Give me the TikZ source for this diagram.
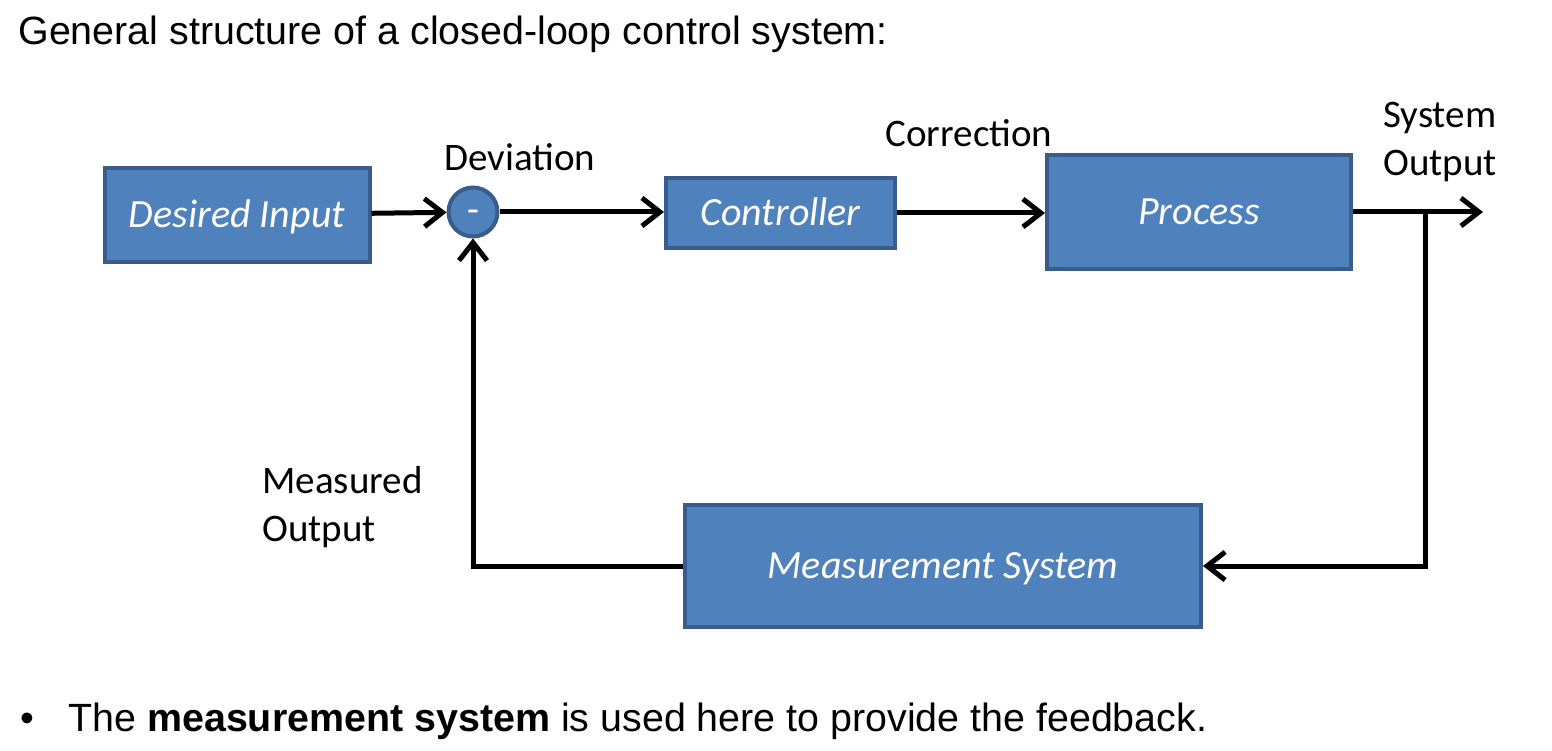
\documentclass[tikz,border=0pt]{standalone}
\usepackage{fontspec}
\setmainfont{Liberation Sans}
\newfontfamily\calibri{Carlito}
\usepackage{xcolor}
\usetikzlibrary{arrows.meta,positioning}
\definecolor{boxfill}{HTML}{4F81BD}
\definecolor{boxline}{HTML}{385D8A}

\begin{document}
\begin{tikzpicture}[
    x=0.5pt, y=0.5pt,
    box/.style={rectangle, draw=boxline, fill=boxfill, line width=2pt, text=white, inner sep=0pt, text height=13pt, text depth=0pt, font=\calibri\itshape\fontsize{20}{24}\selectfont},
    sum/.style={circle, draw=boxline, fill=boxfill, line width=2pt, text=white, inner sep=0pt, minimum size=24.5pt, text height=10.4pt, text depth=0pt, font=\calibri\fontsize{19.5}{24}\selectfont},
    lbl/.style={font=\calibri\fontsize{19.5}{24}\selectfont, align=left, inner sep=0pt},
    arrow/.style={-{Straight Barb[length=9pt,width=14pt]}, line width=2.5pt}
]
    \useasboundingbox (0,0) rectangle (1552,750);

    \node[anchor=base west, inner sep=0pt, font=\fontsize{19.7}{24}\selectfont] (title) at (18,705) {General structure of a closed-loop control system:};

    \node[box, minimum width=132.5pt, minimum height=47pt] (input) at (237,535) {Desired Input};
    \node[sum] (sum) at (473,538) {-};
    \node[box, minimum width=114.5pt, minimum height=35pt] (ctrl) at (780.5,537) {Controller};
    \node[box, minimum width=152pt, minimum height=57pt] (proc) at (1199,538) {Process};
    \node[box, minimum width=258pt, minimum height=61pt] (meas) at (943,184) {Measurement System};

    \coordinate (out) at (1483,538);
    \coordinate (branch) at (1425,538);

    \node[lbl] (dev) at (520,593) {Deviation};
    \node[lbl] (corr) at (969,617) {Correction};
    \node[lbl, anchor=west] (sysout) at (1383,608) {System\\Output};
    \node[lbl, anchor=west] (measout) at (262,242.5) {Measured\\Output};

    \draw[arrow] (input) -- (sum);
    \draw[arrow] (sum) -- (sum -| ctrl.west);
    \draw[arrow] (ctrl.east) -- (ctrl.east -| proc.west);
    \draw[arrow] (proc.east |- out) -- (out);
    \draw[arrow] (branch) |- (meas);
    \draw[arrow] (meas) -| (sum);

    \node[anchor=base west, inner sep=0pt, font=\fontsize{19.7}{24}\selectfont] (dot) at (20,19) {\textbullet};
    \node[anchor=base west, inner sep=0pt, font=\fontsize{19.7}{24}\selectfont] (note) at (68,19) {The \textbf{measurement system} is used here to provide the feedback.};
\end{tikzpicture}
\end{document}
